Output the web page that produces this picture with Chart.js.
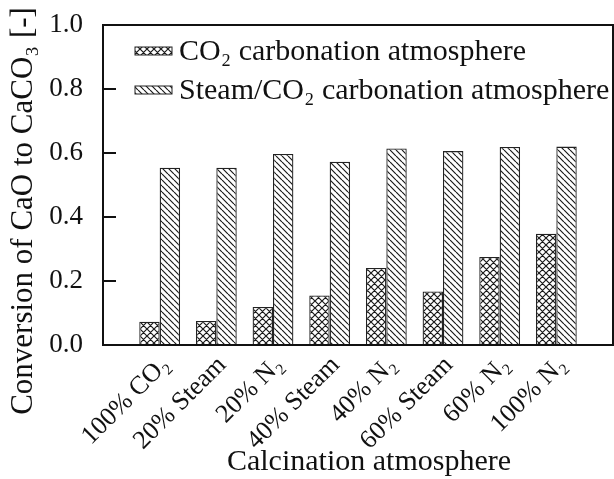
<!DOCTYPE html>
<html>
<head>
<meta charset="utf-8">
<script src="https://cdn.jsdelivr.net/npm/chart.js@4.4.0/dist/chart.umd.min.js"></script>
<style>
  html, body { margin: 0; padding: 0; background: #fff; }
  #wrap { width: 614px; height: 479px; }
</style>
</head>
<body>
<div id="wrap"><canvas id="chart"></canvas></div>
<script>
const categories = ['100% CO₂', '20% Steam', '20% N₂', '40% Steam', '40% N₂', '60% Steam', '60% N₂', '100% N₂'];
const co2Values = [0.073, 0.075, 0.119, 0.155, 0.241, 0.167, 0.275, 0.348];
const steamValues = [0.554, 0.554, 0.597, 0.573, 0.614, 0.606, 0.619, 0.620];
const seriesNames = ['CO₂ carbonation atmosphere', 'Steam/CO₂ carbonation atmosphere'];
const yTicks = [0, 0.2, 0.4, 0.6, 0.8, 1.0];
const xTitle = 'Calcination atmosphere';
const yTitle = 'Conversion of CaO to CaCO₃ [-]';

Chart.defaults.font.family = '"Liberation Serif", "Times New Roman", serif';
Chart.defaults.color = '#111';

// hatch fills for the bars
function makePattern(kind) {
    const size = kind === 'cross' ? 7 : 6;
    const c = document.createElement('canvas');
    c.width = size;
    c.height = size;
    const g = c.getContext('2d');
    g.fillStyle = '#fff';
    g.fillRect(0, 0, size, size);
    g.strokeStyle = '#1a1a1a';
    g.lineWidth = 1.2;
    g.beginPath();
    for (let k = -1; k <= 1; k++) {
        g.moveTo(k * size, 0);
        g.lineTo(k * size + size, size);
        if (kind === 'cross') {
            g.moveTo(k * size, size);
            g.lineTo(k * size + size, 0);
        }
    }
    g.stroke();
    return g.createPattern(c, 'repeat');
}

const crossFill = makePattern('cross');
const backFill = makePattern('back');

// empty slot at each end so bars sit one step in from the frame
const labels = ['', ...categories, ''];

const frame = {
    id: 'frame',
    afterDraw(chart) {
        const { ctx, chartArea: a } = chart;
        const yScale = chart.scales.y;
        ctx.save();
        ctx.strokeStyle = '#111';
        ctx.lineWidth = 2;
        ctx.strokeRect(a.left, a.top, a.right - a.left, a.bottom - a.top);
        // inward ticks on the left axis
        ctx.fillStyle = '#111';
        yTicks.forEach(v => {
            const py = Math.round(yScale.getPixelForValue(v));
            ctx.fillRect(a.left, py - 1, 13, 2);
        });
        ctx.restore();
    }
};

const legendBox = {
    id: 'legendBox',
    afterDraw(chart) {
        const { ctx, chartArea: a } = chart;
        ctx.save();
        ctx.font = '30px "Liberation Serif", serif';
        ctx.textBaseline = 'middle';
        chart.data.datasets.forEach((ds, i) => {
            const y = a.top + 26 + i * 39;
            const x = a.left + 32;
            ctx.fillStyle = ds.backgroundColor;
            ctx.fillRect(x, y - 4, 37, 8);
            ctx.strokeStyle = '#222';
            ctx.lineWidth = 1;
            ctx.strokeRect(x, y - 4, 37, 8);
            ctx.fillStyle = '#111';
            ctx.fillText(ds.label, x + 44, y + 1);
        });
        ctx.restore();
    }
};

const axisTitles = {
    id: 'axisTitles',
    afterDraw(chart) {
        const { ctx, chartArea: a } = chart;
        ctx.save();
        ctx.fillStyle = '#111';
        ctx.textAlign = 'center';
        ctx.textBaseline = 'alphabetic';
        ctx.font = '30px "Liberation Serif", serif';
        ctx.fillText(xTitle, (a.left + a.right) / 2 + 11, chart.height - 9);
        ctx.font = '31px "Liberation Serif", serif';
        ctx.translate(32, (a.top + a.bottom) / 2 + 26);
        ctx.rotate(-Math.PI / 2);
        ctx.fillText(yTitle, 0, 0);
        ctx.restore();
    }
};

new Chart(document.getElementById('chart'), {
    type: 'bar',
    data: {
        labels: labels,
        datasets: [{
            label: seriesNames[0],
            data: [null, ...co2Values, null],
            backgroundColor: crossFill,
            borderColor: '#222',
            borderWidth: 1.3
        }, {
            label: seriesNames[1],
            data: [null, ...steamValues, null],
            backgroundColor: backFill,
            borderColor: '#222',
            borderWidth: 1.3
        }]
    },
    options: {
        responsive: true,
        maintainAspectRatio: false,
        animation: false,
        categoryPercentage: 0.72,
        barPercentage: 1,
        layout: { padding: { top: 25, right: 1, left: 0, bottom: 0 } },
        plugins: {
            legend: { display: false },
            tooltip: { enabled: false }
        },
        scales: {
            x: {
                offset: false,
                grid: { display: false, drawTicks: false },
                border: { display: false },
                ticks: {
                    autoSkip: false,
                    minRotation: 45,
                    maxRotation: 45,
                    labelOffset: 6,
                    padding: 5,
                    font: { size: 26 }
                },
                afterFit(scale) {
                    scale.height = 134;
                    scale.paddingLeft = 0;
                    scale.paddingRight = 0;
                }
            },
            y: {
                min: 0,
                max: 1,
                afterBuildTicks(scale) { scale.ticks = yTicks.map(v => ({ value: v })); },
                grid: { display: false, drawTicks: false },
                border: { display: false },
                ticks: {
                    padding: 20,
                    font: { size: 27 },
                    callback: v => Number(v).toFixed(1)
                },
                afterFit(scale) {
                    scale.width = 103;
                    scale.paddingTop = 0;
                    scale.paddingBottom = 0;
                }
            }
        }
    },
    plugins: [frame, legendBox, axisTitles]
});
</script>
</body>
</html>
